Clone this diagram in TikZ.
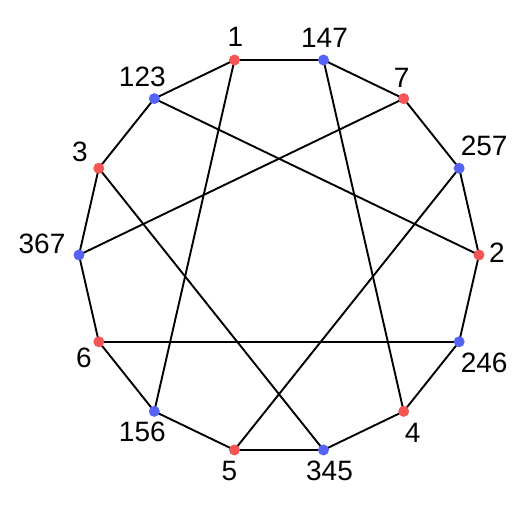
\documentclass[tikz,border=0pt]{standalone}
\usepackage{fontspec}
\setmainfont{Liberation Sans}
\definecolor{ptred}{RGB}{245,85,85}
\definecolor{lnblue}{RGB}{85,100,245}
\tikzset{
pt/.style={circle,fill=ptred,inner sep=0pt,minimum size=11pt},
ln/.style={circle,fill=lnblue,inner sep=0pt,minimum size=11pt},
lab/.style={font=\fontsize{28}{30}\selectfont,inner sep=0pt}
}
\begin{document}
\begin{tikzpicture}[x=1pt,y=1pt,line width=1.9pt]
\useasboundingbox (-279,-250) rectangle (249,255);
\coordinate (p2) at (0:200);
\coordinate (l257) at (25.71:200);
\coordinate (p7) at (51.43:200);
\coordinate (l147) at (77.14:200);
\coordinate (p1) at (102.86:200);
\coordinate (l123) at (128.57:200);
\coordinate (p3) at (154.29:200);
\coordinate (l367) at (180:200);
\coordinate (p6) at (205.71:200);
\coordinate (l156) at (231.43:200);
\coordinate (p5) at (257.14:200);
\coordinate (l345) at (282.86:200);
\coordinate (p4) at (308.57:200);
\coordinate (l246) at (334.29:200);
% outer cycle
\draw (p2) -- (l257) -- (p7) -- (l147) -- (p1) -- (l123) -- (p3) -- (l367)
  -- (p6) -- (l156) -- (p5) -- (l345) -- (p4) -- (l246) -- cycle;
% chords
\draw (p1) -- (l156);
\draw (l147) -- (p4);
\draw (l123) -- (p2);
\draw (p7) -- (l367);
\draw (l257) -- (p5);
\draw (p3) -- (l345);
\draw (p6) -- (l246);
% dots
\node[pt] (d1) at (p1) {};
\node[pt] (d2) at (p2) {};
\node[pt] (d3) at (p3) {};
\node[pt] (d4) at (p4) {};
\node[pt] (d5) at (p5) {};
\node[pt] (d6) at (p6) {};
\node[pt] (d7) at (p7) {};
\node[ln] (d123) at (l123) {};
\node[ln] (d147) at (l147) {};
\node[ln] (d156) at (l156) {};
\node[ln] (d246) at (l246) {};
\node[ln] (d257) at (l257) {};
\node[ln] (d345) at (l345) {};
\node[ln] (d367) at (l367) {};
% labels
\node[lab] (t1) at ([shift={(1,23)}]p1) {1};
\node[lab] (t147) at ([shift={(1,22)}]l147) {147};
\node[lab] (t7) at ([shift={(-2,21)}]p7) {7};
\node[lab] (t257) at ([shift={(25,22)}]l257) {257};
\node[lab] (t2) at ([shift={(18,2)}]p2) {2};
\node[lab] (t246) at ([shift={(25,-21)}]l246) {246};
\node[lab] (t4) at ([shift={(9,-22)}]p4) {4};
\node[lab] (t345) at ([shift={(6,-21)}]l345) {345};
\node[lab] (t5) at ([shift={(-5,-21)}]p5) {5};
\node[lab] (t156) at ([shift={(-12,-21)}]l156) {156};
\node[lab] (t6) at ([shift={(-15,-16)}]p6) {6};
\node[lab] (t367) at ([shift={(-37,11)}]l367) {367};
\node[lab] (t3) at ([shift={(-19,16)}]p3) {3};
\node[lab] (t123) at ([shift={(-12,22)}]l123) {123};
\end{tikzpicture}
\end{document}
